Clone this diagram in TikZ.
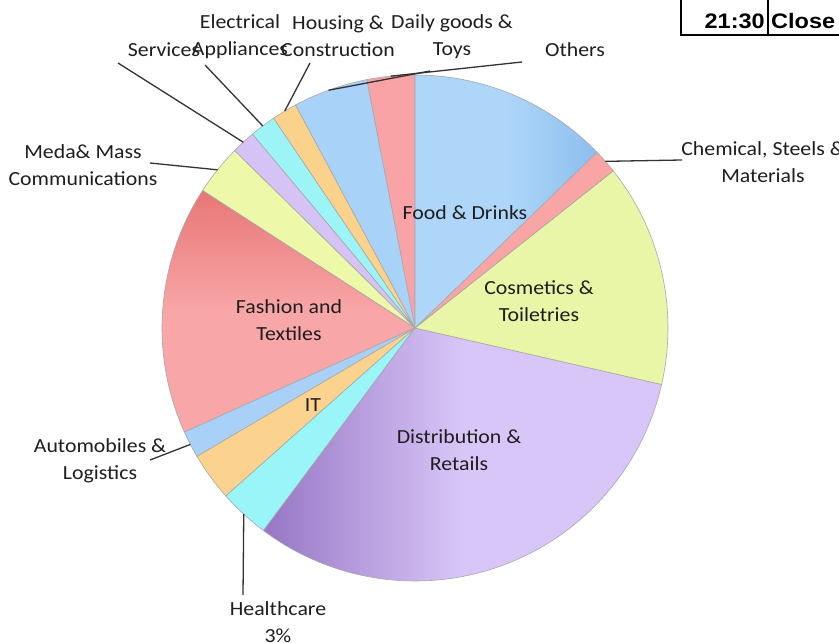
\documentclass[tikz,border=0pt]{standalone}
\usepackage{fontspec}
\newfontfamily\lbl[FakeStretch=1.09]{Carlito}
\newfontfamily\boxfont[FakeStretch=1.12]{Liberation Sans}
\usetikzlibrary{calc}
\definecolor{cOthers}{HTML}{F9A3A6}
\definecolor{cDaily}{HTML}{A9D2F8}
\definecolor{cHousing}{HTML}{FBD28C}
\definecolor{cElec}{HTML}{9CF4F7}
\definecolor{cServ}{HTML}{D6C3F5}
\definecolor{cMedia}{HTML}{EDF8A8}
\definecolor{cFashTop}{HTML}{E97676}
\definecolor{cFashBot}{HTML}{F8A6A7}
\definecolor{cAuto}{HTML}{A9D1F8}
\definecolor{cIT}{HTML}{FBD38E}
\definecolor{cHealth}{HTML}{9AF5F8}
\definecolor{cDistDark}{HTML}{9676C4}
\definecolor{cDistLight}{HTML}{D9C6F8}
\definecolor{cCosm}{HTML}{E9F6A7}
\definecolor{cChem}{HTML}{F9A5A6}
\definecolor{cFoodL}{HTML}{AED6F9}
\definecolor{cFoodR}{HTML}{8DBEEE}
\definecolor{cEdge}{HTML}{A8A8A8}
\definecolor{cLead}{HTML}{333333}
\definecolor{cText}{HTML}{1E1E1E}
\begin{document}
\begin{tikzpicture}[x=1pt,y=1pt,
  slice/.style={draw=cEdge, line width=0.6pt},
  lab/.style={font=\lbl\fontsize{20}{27}\selectfont, text=cText, align=center, inner sep=0pt},
  leader/.style={draw=cLead, line width=1.3pt},
  boxtxt/.style={font=\boxfont\bfseries\fontsize{21}{24}\selectfont, inner sep=0pt}]
\useasboundingbox (0,0) rectangle (839,643);
\fill[white] (0,0) rectangle (839,643);
\coordinate (C) at (415,315);
\def\R{253pt}
% slices
\path[slice, fill=cOthers] (C) -- ($(C)+(90:\R)$) arc[start angle=90, end angle=101, radius=\R] -- cycle;
\path[slice, fill=cDaily] (C) -- ($(C)+(101:\R)$) arc[start angle=101, end angle=118.2, radius=\R] -- cycle;
\path[slice, fill=cHousing] (C) -- ($(C)+(118.2:\R)$) arc[start angle=118.2, end angle=124, radius=\R] -- cycle;
\path[slice, fill=cElec] (C) -- ($(C)+(124:\R)$) arc[start angle=124, end angle=130, radius=\R] -- cycle;
\path[slice, fill=cServ] (C) -- ($(C)+(130:\R)$) arc[start angle=130, end angle=135.5, radius=\R] -- cycle;
\path[slice, fill=cMedia] (C) -- ($(C)+(135.5:\R)$) arc[start angle=135.5, end angle=147.1, radius=\R] -- cycle;
\path[slice, top color=cFashTop, bottom color=cFashBot, middle color=cFashBot] (C) -- ($(C)+(147.1:\R)$) arc[start angle=147.1, end angle=204.3, radius=\R] -- cycle;
\path[slice, fill=cAuto] (C) -- ($(C)+(204.3:\R)$) arc[start angle=204.3, end angle=210.5, radius=\R] -- cycle;
\path[slice, fill=cIT] (C) -- ($(C)+(210.5:\R)$) arc[start angle=210.5, end angle=221.6, radius=\R] -- cycle;
\path[slice, fill=cHealth] (C) -- ($(C)+(221.6:\R)$) arc[start angle=221.6, end angle=233.2, radius=\R] -- cycle;
\path[slice, left color=cDistDark, right color=cDistLight, middle color=cDistLight] (C) -- ($(C)+(233.2:\R)$) arc[start angle=233.2, end angle=347.1, radius=\R] -- cycle;
\path[slice, fill=cCosm] (C) -- ($(C)+(-12.9:\R)$) arc[start angle=-12.9, end angle=38.4, radius=\R] -- cycle;
\path[slice, fill=cChem] (C) -- ($(C)+(38.4:\R)$) arc[start angle=38.4, end angle=44, radius=\R] -- cycle;
\path[slice, left color=cFoodL, right color=cFoodR, middle color=cFoodL] (C) -- ($(C)+(44:\R)$) arc[start angle=44, end angle=90, radius=\R] -- cycle;
% slice midpoints on the rim
\coordinate (mOthers) at ($(C)+(95.5:\R)$);
\coordinate (mDaily) at ($(C)+(110:\R)$);
\coordinate (mHousing) at ($(C)+(121:\R)$);
\coordinate (mElec) at ($(C)+(127:\R)$);
\coordinate (mServ) at ($(C)+(132.75:\R)$);
\coordinate (mMedia) at ($(C)+(141.3:\R)$);
\coordinate (mAuto) at ($(C)+(207.4:\R)$);
\coordinate (mHealth) at ($(C)+(227.4:\R)$);
\coordinate (mChem) at ($(C)+(41.2:\R)$);
% leader free ends
\coordinate (lServ) at (118,580);
\coordinate (lElec) at (205,578);
\coordinate (lHousing) at (310,580);
\coordinate (lDaily) at (430,572);
\coordinate (lOthers) at (522,581);
\coordinate (lChem) at (682,483);
\coordinate (lMedia) at (150,480);
\coordinate (lAuto) at (150,183);
\coordinate (lHealth) at (243,48);
% leaders
\draw[leader] (lServ) -- (mServ);
\draw[leader] (lElec) -- (mElec);
\draw[leader] (lHousing) -- (mHousing);
\draw[leader] (lDaily) -- (mDaily);
\draw[leader] (lOthers) -- (mOthers);
\draw[leader] (lChem) -- (mChem);
\draw[leader] (lMedia) -- (mMedia);
\draw[leader] (lAuto) -- (mAuto);
\draw[leader] (lHealth) -- (mHealth);
% outside labels
\node[lab] (tServ) at (164,593) {Services};
\node[lab] (tElec) at (240,606.5) {Electrical\\Appliances};
\node[lab] (tHousing) at (338,606.5) {Housing \&\\Construction};
\node[lab] (tDaily) at (452,606.5) {Daily goods \&\\Toys};
\node[lab] (tOthers) at (575,593) {Others};
\node[lab] (tChem) at (763,481) {Chemical, Steels \&\\Materials};
\node[lab] (tMedia) at (83,478) {Meda\& Mass\\Communications};
\node[lab] (tAuto) at (100,182) {Automobiles \&\\Logistics};
\node[lab] (tHealth) at (278,21) {Healthcare\\3\%};
% inside labels
\node[lab] (tFood) at (465,430) {Food \& Drinks};
\node[lab] (tCosm) at (539,342) {Cosmetics \&\\Toiletries};
\node[lab] (tFash) at (289,323) {Fashion and\\Textiles};
\node[lab] (tIT) at (313,238) {IT};
\node[lab] (tDist) at (459,193) {Distribution \&\\Retails};
% top-right box
\draw[line width=1.3pt] (681,643) -- (681,608) -- (839,608);
\draw[line width=1.3pt] (768,643) -- (768,608);
\node[boxtxt, anchor=base east] (tTime) at (765,614) {21:30};
\node[boxtxt, anchor=base west] (tClose) at (771,614) {Close};
\end{tikzpicture}
\end{document}
